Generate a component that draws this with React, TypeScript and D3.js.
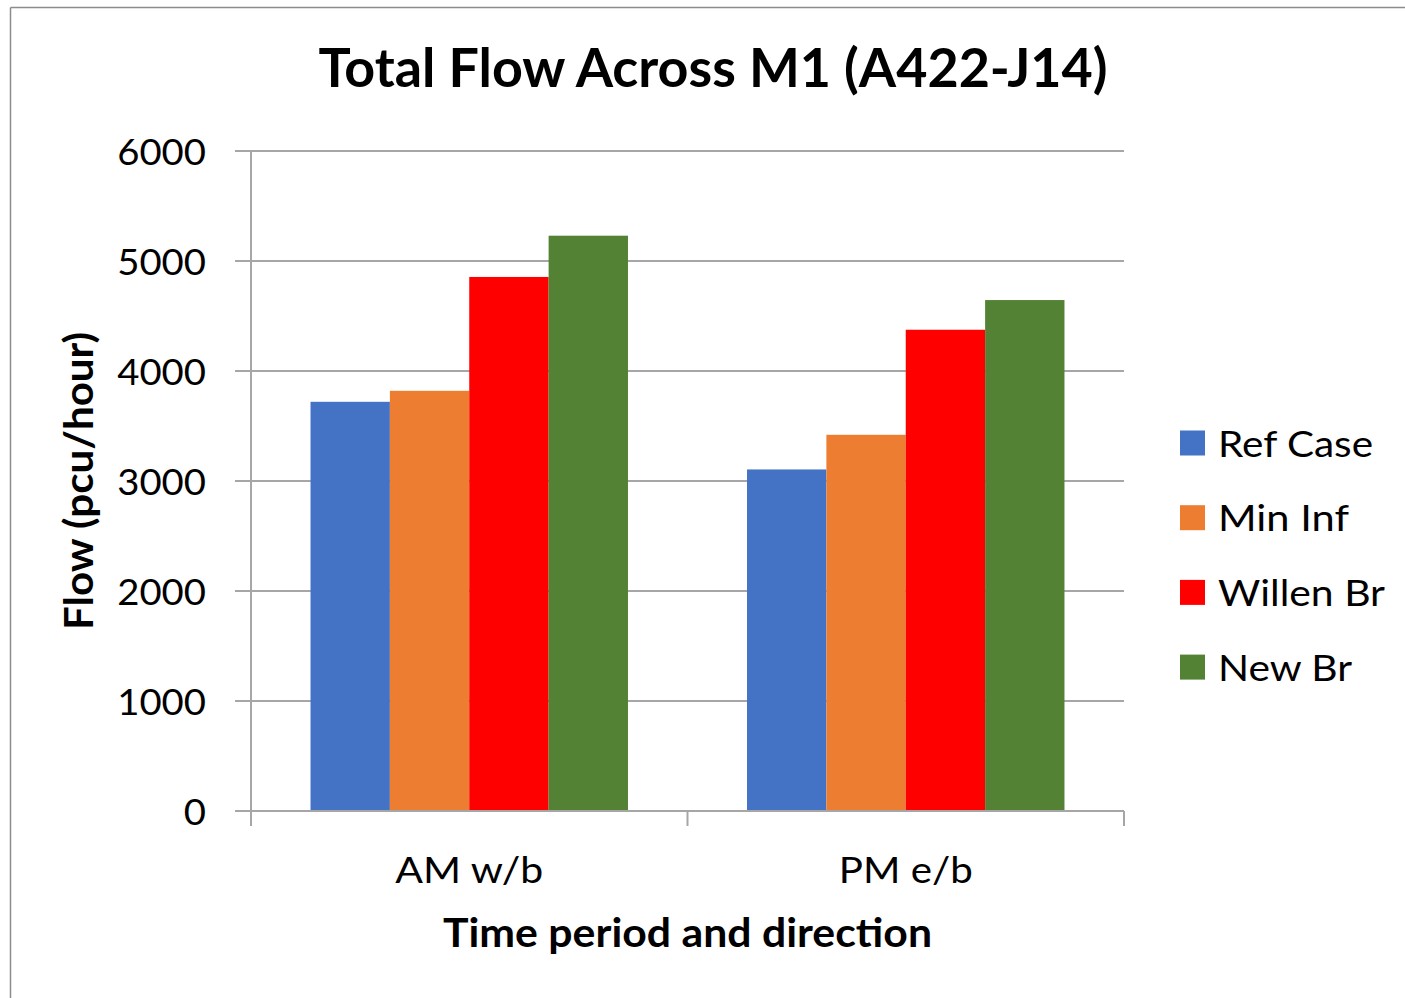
import React from "react";
import * as d3 from "d3";

const categories = ["AM w/b", "PM e/b"];
const seriesNames = ["Ref Case", "Min Inf", "Willen Br", "New Br"];
const seriesColors = ["#4472C4", "#ED7D31", "#FF0000", "#548235"];
const refCase = [3720, 3105];
const minInf = [3820, 3420];
const willenBr = [4855, 4375];
const newBr = [5230, 4645];
const yTicks = [0, 1000, 2000, 3000, 4000, 5000, 6000];

const seriesValues = [refCase, minInf, willenBr, newBr];

// layout (pixel sizes, not data)
const W = 1405;
const H = 998;
const plotLeft = 251;
const plotRight = 1124;
const plotTop = 151;
const plotBottom = 811;
const FONT = "Lato, 'Open Sans', sans-serif";
const GRID = "#A6A6A6";
const catLabelWidths = [148, 134];
const legendTextWidths = [155, 131, 167, 134];

export default function App() {
  const x0 = d3.scaleBand<string>().domain(categories).range([plotLeft, plotRight]).paddingInner(0).paddingOuter(0);
  const x1 = d3.scaleBand<string>().domain(seriesNames).range([0, x0.bandwidth()]).paddingInner(0).paddingOuter(0.75);
  const y = d3.scaleLinear().domain([0, 6000]).range([plotBottom, plotTop]);

  const catTicks = [plotLeft, ...categories.map((c) => (x0(c) as number) + x0.bandwidth())];

  return (
    <svg width={W} height={H} style={{ position: "absolute", left: 0, top: 0, background: "#fff" }}>
      <rect x={0} y={0} width={W} height={H} fill="#fff" />
      {/* outer border (top and left visible) */}
      <line x1={10.5} y1={7.5} x2={W} y2={7.5} stroke="#8C8C8C" strokeWidth={1.5} />
      <line x1={10.5} y1={7.5} x2={10.5} y2={H} stroke="#8C8C8C" strokeWidth={1.5} />

      {/* title */}
      <text
        x={713}
        y={87}
        textAnchor="middle"
        fontFamily={FONT}
        fontWeight={700}
        fontSize={53}
        fill="#000"
        textLength={789}
        lengthAdjust="spacingAndGlyphs"
      >
        Total Flow Across M1 (A422-J14)
      </text>

      {/* gridlines and y ticks */}
      {yTicks.map((t) => (
        <g key={t}>
          <line x1={235} x2={plotRight} y1={y(t)} y2={y(t)} stroke={GRID} strokeWidth={2} />
          <text
            x={206}
            y={y(t) + 13.5}
            textAnchor="end"
            fontFamily={FONT}
            fontSize={37.5}
            fill="#000"
            textLength={String(t).length * 22.2}
            lengthAdjust="spacingAndGlyphs"
          >
            {t}
          </text>
        </g>
      ))}

      {/* bars */}
      {categories.map((c, ci) => (
        <g key={c} transform={`translate(${x0(c)},0)`}>
          {seriesNames.map((s, si) => {
            const v = seriesValues[si][ci];
            return (
              <rect
                key={s}
                x={x1(s) as number}
                y={y(v)}
                width={x1.bandwidth()}
                height={y(0) - y(v)}
                fill={seriesColors[si]}
              />
            );
          })}
        </g>
      ))}

      {/* axes */}
      <line x1={plotLeft} x2={plotLeft} y1={plotTop} y2={plotBottom + 15} stroke={GRID} strokeWidth={2} />
      <line x1={235} x2={plotRight} y1={plotBottom} y2={plotBottom} stroke={GRID} strokeWidth={2} />
      {catTicks.map((t, i) => (
        <line key={i} x1={t} x2={t} y1={plotBottom} y2={plotBottom + 15} stroke={GRID} strokeWidth={2} />
      ))}

      {/* category labels */}
      {categories.map((c, i) => (
        <text
          key={c}
          x={(x0(c) as number) + x0.bandwidth() / 2}
          y={883}
          textAnchor="middle"
          fontFamily={FONT}
          fontSize={37.5}
          fill="#000"
          textLength={catLabelWidths[i]}
          lengthAdjust="spacingAndGlyphs"
        >
          {c}
        </text>
      ))}

      {/* axis titles */}
      <text
        x={687.5}
        y={947}
        textAnchor="middle"
        fontFamily={FONT}
        fontWeight={700}
        fontSize={39.5}
        fill="#000"
        textLength={489}
        lengthAdjust="spacingAndGlyphs"
      >
        Time period and direction
      </text>
      <text
        transform={`translate(93,481) rotate(-90)`}
        textAnchor="middle"
        fontFamily={FONT}
        fontWeight={700}
        fontSize={39.5}
        fill="#000"
        textLength={298}
        lengthAdjust="spacingAndGlyphs"
      >
        Flow (pcu/hour)
      </text>

      {/* legend */}
      {seriesNames.map((s, i) => {
        const cy = 443 + i * 74.7;
        return (
          <g key={s}>
            <rect x={1180} y={cy - 12.5} width={25} height={25} fill={seriesColors[i]} />
            <text
              x={1218}
              y={cy + 13.5}
              fontFamily={FONT}
              fontSize={37.5}
              fill="#000"
              textLength={legendTextWidths[i]}
              lengthAdjust="spacingAndGlyphs"
            >
              {s}
            </text>
          </g>
        );
      })}
    </svg>
  );
}
